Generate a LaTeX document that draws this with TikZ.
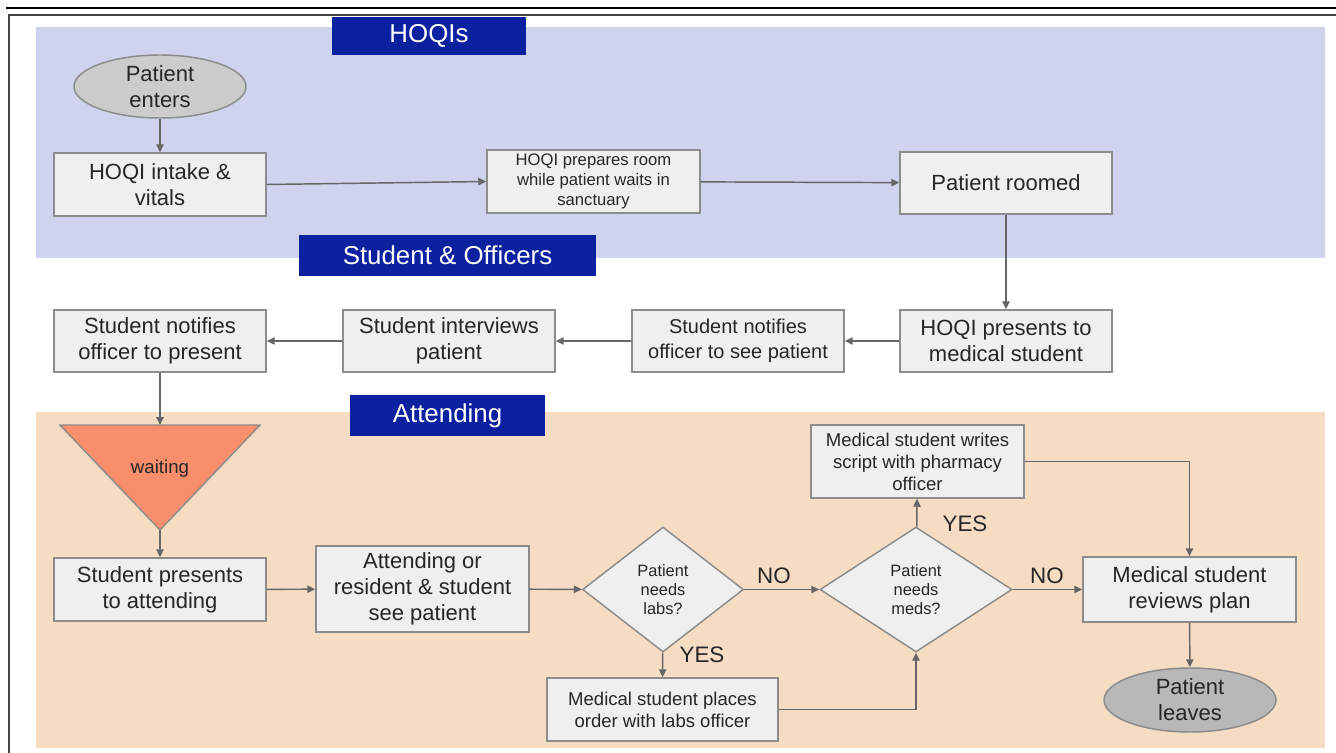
\documentclass[tikz,border=0pt]{standalone}
\usepackage{fontspec}
\setmainfont{Liberation Sans}
\usetikzlibrary{shapes.geometric,arrows.meta}
\definecolor{bandblue}{HTML}{CFD3EE}
\definecolor{bandorange}{HTML}{F5DCC3}
\definecolor{hdrblue}{HTML}{0B21A0}
\definecolor{boxfill}{HTML}{EFEFEF}
\definecolor{boxline}{HTML}{8C8C8C}
\definecolor{arrowc}{HTML}{666666}
\definecolor{ovalfill}{HTML}{CCCCCC}
\definecolor{ovaldark}{HTML}{B8B8B8}
\definecolor{salmon}{HTML}{F98E6C}
\definecolor{txt}{HTML}{262626}
\definecolor{frameline}{HTML}{444444}
\begin{document}
\begin{tikzpicture}[x=0.75pt,y=-0.75pt,
  box/.style={draw=boxline, fill=boxfill, line width=1.1pt, align=center, text=txt, inner sep=2pt,
    font=\fontsize{16.5}{19.5}\selectfont},
  midbox/.style={box, font=\fontsize{15}{18.5}\selectfont},
  smallbox/.style={box, font=\fontsize{13.9}{16.5}\selectfont},
  tinybox/.style={box, font=\fontsize{12.5}{15}\selectfont},
  oval/.style={ellipse, draw=boxline, line width=1.1pt, align=center, text=txt, inner sep=0pt,
    font=\fontsize{16.5}{19.5}\selectfont},
  decision/.style={diamond, draw=boxline, fill=boxfill, line width=1.1pt, align=center, text=txt, inner sep=0pt,
    font=\fontsize{12.3}{14.5}\selectfont},
  header/.style={fill=hdrblue, text=white, inner sep=0pt, font=\fontsize{19.4}{23}\selectfont},
  band/.style={draw=none},
  conn/.style={draw=arrowc, line width=1.1pt, -{Triangle[length=6pt,width=5.5pt]}},
  answer/.style={text=txt, font=\fontsize{16.8}{20}\selectfont}
]
\useasboundingbox (0,0) rectangle (1336,753);
% frame
\draw[line width=0.8pt, black] (6,8) -- (1336,8);
\draw[line width=1.6pt, frameline] (8,15) -- (1336,15);
\draw[line width=1.6pt, frameline] (9,15) -- (9,753);
% bands
\fill[bandblue] (36,27) rectangle (1325,258);
\fill[bandorange] (36,412) rectangle (1325,748);
% headers
\node[header, minimum width=145.5pt, minimum height=28.5pt] (hHOQI) at (429,36) {HOQIs};
\node[header, minimum width=222.75pt, minimum height=30.75pt] (hStud) at (447.5,255.5) {Student \& Officers};
\node[header, minimum width=146.25pt, minimum height=30.75pt] (hAtt) at (447.5,415.5) {Attending};

% nodes
\node[oval, fill=ovalfill, minimum width=129pt, minimum height=47.25pt] (enter) at (160,86.5) {Patient\\enters};
\node[box, minimum width=159pt, minimum height=47.25pt] (intake) at (160,184.5) {HOQI intake \&\\vitals};
\node[tinybox, minimum width=159.75pt, minimum height=47.25pt] (prep) at (593.5,181.5) {HOQI prepares room\\while patient waits in\\sanctuary};
\node[box, minimum width=159pt, minimum height=46.5pt] (roomed) at (1006,183) {Patient roomed};
\node[box, minimum width=159pt, minimum height=46.5pt] (hpres) at (1006,341) {HOQI presents to\\medical student};
\node[midbox, minimum width=159pt, minimum height=46.5pt] (notsee) at (738,341) {Student notifies\\officer to see patient};
\node[box, minimum width=159pt, minimum height=46.5pt] (interv) at (449,341) {Student interviews\\patient};
\node[box, minimum width=159pt, minimum height=46.5pt] (notpres) at (160,341) {Student notifies\\officer to present};

% waiting triangle
\coordinate (wtop) at (160,425);
\coordinate (wbot) at (160,530);
\fill[salmon, draw=boxline, line width=1.1pt] (60,425) -- (260,425) -- (wbot) -- cycle;
\node[text=txt, font=\fontsize{14}{16}\selectfont] (waiting) at (160,469) {waiting};

\node[box, minimum width=159pt, minimum height=47.25pt] (presatt) at (160,589.5) {Student presents\\to attending};
\node[box, minimum width=159.75pt, minimum height=64.5pt] (attsee) at (422.5,589) {Attending or\\resident \& student\\see patient};
\node[decision, minimum width=120.75pt, minimum height=93.75pt] (labs) at (663,589.5) {Patient\\needs\\labs?};
\node[smallbox, minimum width=173.25pt, minimum height=47.25pt] (order) at (662.5,709.5) {Medical student places\\order with labs officer};
\node[decision, minimum width=144pt, minimum height=93.75pt] (meds) at (916,589.5) {Patient\\needs\\meds?};
\node[smallbox, minimum width=159.75pt, minimum height=54.75pt] (script) at (917.5,461.5) {Medical student writes\\script with pharmacy\\officer};
\node[box, minimum width=159.75pt, minimum height=48.75pt] (review) at (1189.5,589.5) {Medical student\\reviews plan};
\node[oval, fill=ovaldark, minimum width=129pt, minimum height=48pt] (leaves) at (1190,700) {Patient\\leaves};

% connectors
\draw[conn] (enter) -- (intake);
\draw[conn] (intake.east) -- (prep.west);
\draw[conn] (prep) -- (roomed);
\draw[conn] (roomed) -- (hpres);
\draw[conn] (hpres) -- (notsee);
\draw[conn] (notsee) -- (interv);
\draw[conn] (interv) -- (notpres);
\draw[conn] (notpres) -- (wtop);
\draw[conn] (wbot) -- (presatt);
\draw[conn] (presatt) -- (attsee);
\draw[conn] (attsee) -- (labs);
\draw[conn] (labs) -- (meds);
\draw[conn] (labs) -- (order);
\draw[conn] (order.east) -| (meds.south);
\draw[conn] (meds) -- (script);
\draw[conn] (meds) -- (review);
\draw[conn] (script.east) -| (review.north);
\draw[conn] (review) -- (leaves);

% answers
\node[answer] (noA) at (774,576) {NO};
\node[answer] (yesA) at (702,655) {YES};
\node[answer] (yesB) at (965,524) {YES};
\node[answer] (noB) at (1047,576) {NO};
\end{tikzpicture}
\end{document}
